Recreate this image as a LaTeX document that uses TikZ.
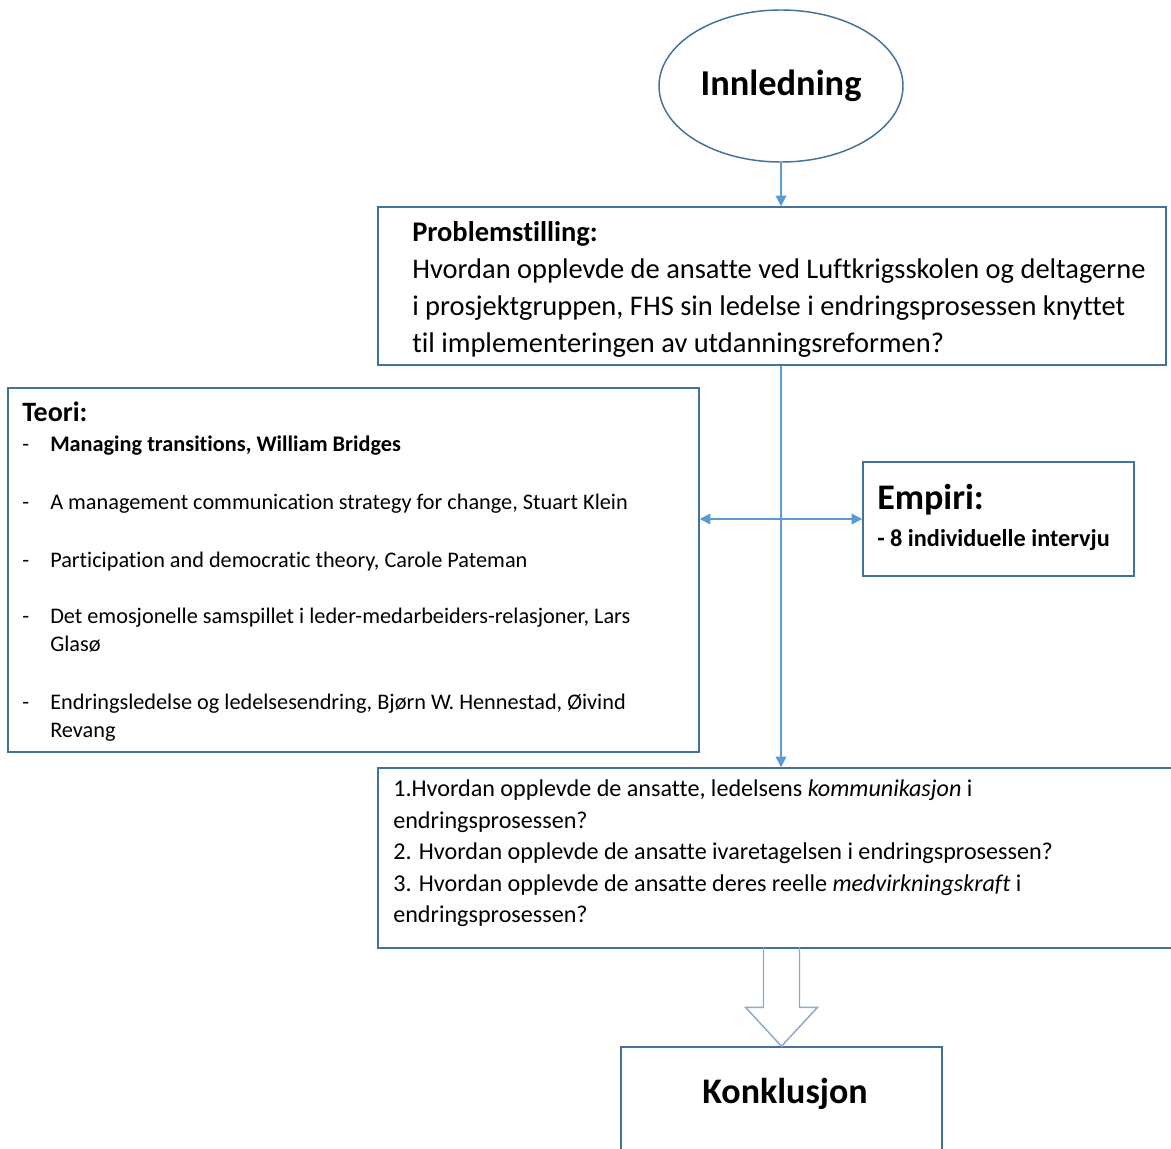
\documentclass[tikz,border=0pt]{standalone}
\usepackage{fontspec}
\setmainfont{Carlito}[Ligatures={NoCommon}]
\usetikzlibrary{shapes.geometric,arrows.meta,calc}
\definecolor{boxblue}{RGB}{65,113,156}
\definecolor{linkblue}{RGB}{91,155,213}
\definecolor{fatblue}{RGB}{140,170,205}
\begin{document}
\begin{tikzpicture}[x=0.75pt,y=-0.75pt,
  rbox/.style={draw=boxblue,line width=1.1pt,rectangle,inner sep=0pt},
  conn/.style={draw=linkblue,line width=1.1pt,-{Triangle[width=8pt,length=8pt]}},
  lt/.style={anchor=base west,inner sep=0pt,text=black},
  ptxt/.style={lt,font=\fontsize{21.35}{25}\selectfont},
  ttxt/.style={lt,font=\fontsize{16.7}{19}\selectfont},
  qtxt/.style={lt,font=\fontsize{18.1}{21}\selectfont}]
\useasboundingbox (0,0) rectangle (1171,1149);
% boxes
\node[ellipse,draw=boxblue,line width=1.1pt,minimum width=183pt,minimum height=114pt,inner sep=0pt,
  font=\fontsize{27.3}{32}\bfseries] (ell) at (781,86) {Innledning};
\node[rbox,minimum width=591pt,minimum height=118.5pt] (prob) at (772,286) {};
\node[rbox,minimum width=518.25pt,minimum height=273pt] (teori) at (353.5,570) {};
\node[rbox,minimum width=203.25pt,minimum height=85.5pt] (emp) at (998.5,519) {};
\node[rbox,minimum width=597.75pt,minimum height=135pt] (q) at (776.5,858) {};
\node[rbox,minimum width=240.75pt,minimum height=84.75pt] (konk) at (781.5,1103.5) {};
% problem text
\node[ptxt,font=\fontsize{21.35}{25}\bfseries] (p0) at (412,241) {Problemstilling:};
\node[ptxt] (p1) at (412,278) {Hvordan opplevde de ansatte ved Luftkrigsskolen og deltagerne};
\node[ptxt] (p2) at (412,315) {i prosjektgruppen, FHS sin ledelse i endringsprosessen knyttet};
\node[ptxt] (p3) at (412,352) {til implementeringen av utdanningsreformen?};
% teori text
\node[lt,font=\fontsize{21}{24}\bfseries] (t0) at (22,421) {Teori:};
\foreach \y/\n in {451/d1,509/d2,567/d3,623/d4,709/d5}
  \node[ttxt] (\n) at (22,\y) {-};
\node[ttxt,font=\fontsize{16.7}{19}\bfseries] (t1) at (50,451) {Managing transitions, William Bridges};
\node[ttxt] (t2) at (50,509) {A management communication strategy for change, Stuart Klein};
\node[ttxt] (t3) at (50,567) {Participation and democratic theory, Carole Pateman};
\node[ttxt] (t4) at (50,623) {Det emosjonelle samspillet i leder-medarbeiders-relasjoner, Lars};
\node[ttxt] (t4b) at (50,651) {Glasø};
\node[ttxt] (t5) at (50,709) {Endringsledelse og ledelsesendring, Bjørn W. Hennestad, Øivind};
\node[ttxt] (t5b) at (50,737) {Revang};
% empiri text
\node[lt,font=\fontsize{27}{32}\bfseries] (e0) at (877,509) {Empiri:};
\node[lt,font=\fontsize{18.2}{21}\bfseries] (e1) at (877,546) {- 8 individuelle intervju};
% questions
\node[qtxt] (q1) at (393,796) {1.Hvordan opplevde de ansatte, ledelsens \textit{kommunikasjon} i};
\node[qtxt] (q1b) at (393,828) {endringsprosessen?};
\node[qtxt] (q2) at (393,859) {2. Hvordan opplevde de ansatte ivaretagelsen i endringsprosessen?};
\node[qtxt] (q3) at (393,891) {3. Hvordan opplevde de ansatte deres reelle \textit{medvirkningskraft} i};
\node[qtxt] (q3b) at (393,922) {endringsprosessen?};
% konklusjon text
\node[anchor=base,inner sep=0pt,font=\fontsize{27}{32}\bfseries] (k0) at (785,1103) {Konklusjon};
% connectors
\draw[conn] (ell.south) -- (ell.south |- prob.north);
\draw[conn] (ell.south |- prob.south) -- (ell.south |- q.north);
\draw[conn,{Triangle[width=8pt,length=8pt]}-{Triangle[width=8pt,length=8pt]}] (teori.east |- emp.west) -- (emp.west);
% block arrow
\coordinate (ba1) at ($(konk.north)+(-18,-99)$);
\coordinate (ba2) at ($(konk.north)+(-18,-39)$);
\coordinate (ba3) at ($(konk.north)+(-36,-39)$);
\coordinate (ba4) at ($(konk.north)+(36,-39)$);
\coordinate (ba5) at ($(konk.north)+(18,-39)$);
\coordinate (ba6) at ($(konk.north)+(18,-99)$);
\draw[draw=fatblue,line width=1.1pt,line join=miter]
  (ba1) -- (ba2) -- (ba3) -- (konk.north) -- (ba4) -- (ba5) -- (ba6);
\end{tikzpicture}
\end{document}
